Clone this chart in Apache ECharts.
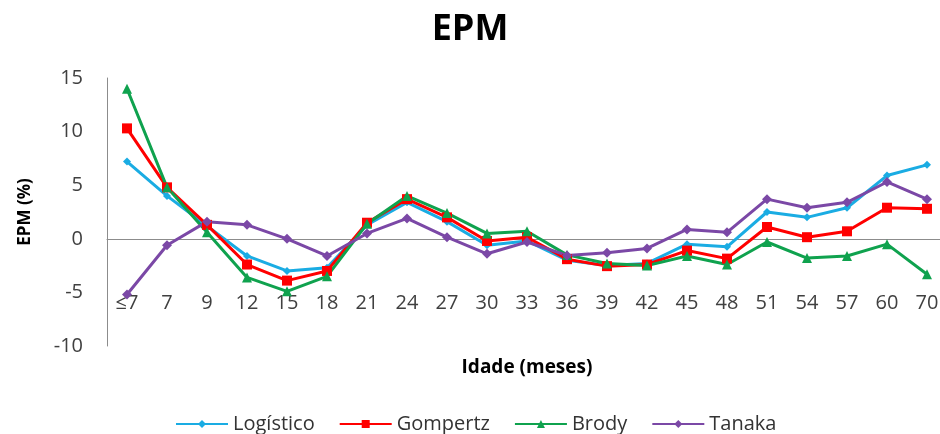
<!DOCTYPE html>
<html><head><meta charset="utf-8">
<script src="https://cdn.jsdelivr.net/npm/echarts@6/dist/echarts.min.js"></script>
<style>html,body{margin:0;padding:0;background:#fff}#c{width:940px;height:434px}</style>
</head><body><div id="c"></div>
<script>
const categories = ['≤7','7','9','12','15','18','21','24','27','30','33','36','39','42','45','48','51','54','57','60','70'];
const logistico = [7.2,4.0,1.2,-1.6,-3.0,-2.7,1.3,3.4,1.6,-0.6,-0.2,-2.0,-2.5,-2.3,-0.5,-0.75,2.5,2.0,2.9,5.9,6.9];
const gompertz  = [10.3,4.8,1.3,-2.4,-3.9,-3.0,1.5,3.7,2.0,-0.2,0.15,-1.9,-2.55,-2.4,-1.1,-1.85,1.1,0.15,0.7,2.9,2.8];
const brody     = [14.0,4.8,0.6,-3.6,-4.9,-3.5,1.4,4.0,2.4,0.5,0.7,-1.5,-2.3,-2.5,-1.6,-2.4,-0.3,-1.8,-1.6,-0.5,-3.3];
const tanaka    = [-5.2,-0.6,1.6,1.3,0.0,-1.6,0.5,1.9,0.15,-1.4,-0.3,-1.55,-1.3,-0.9,0.87,0.6,3.7,2.9,3.4,5.3,3.7];
const yTicks = {min:-10, max:15, interval:5};

const font = "'Open Sans', 'Liberation Sans', sans-serif";
const chart = echarts.init(document.getElementById('c'));
function s(name, data, color, symbol, size){
  return {name, type:'line', data, symbol, symbolSize:size, color,
    lineStyle:{width:3,color}, itemStyle:{color}};
}
chart.setOption({
  animation:false,
  textStyle:{fontFamily:font},
  title:{text:'EPM', left:'center', top:7, textStyle:{fontSize:36, fontWeight:'bold', color:'#000', fontFamily:font}},
  legend:{bottom:-5, left:170, itemWidth:52, itemHeight:10, itemGap:24,
    textStyle:{fontSize:20, color:'#333', fontFamily:font}},
  grid:{left:107, right:-7, top:78, bottom:88, containLabel:false, outerBoundsMode:'none'},
  xAxis:{type:'category', data:categories, boundaryGap:true,
    axisLine:{onZero:true, lineStyle:{color:'#8c8c8c', width:1}},
    axisTick:{show:false},
    axisLabel:{fontSize:20, color:'#404040', margin:-53, interval:0, fontFamily:font},
    name:'Idade (meses)', nameLocation:'middle', nameGap:12,
    nameTextStyle:{fontSize:19, fontWeight:'bold', color:'#000', fontFamily:font}},
  yAxis:{type:'value', min:yTicks.min, max:yTicks.max, interval:yTicks.interval,
    splitLine:{show:false},
    axisLine:{show:true, lineStyle:{color:'#8c8c8c', width:1}},
    axisTick:{show:false},
    axisLabel:{fontSize:20, color:'#404040', margin:24, fontFamily:font},
    name:'EPM (%)', nameLocation:'middle', nameGap:73, nameRotate:90,
    nameTextStyle:{fontSize:17, fontWeight:'bold', color:'#000', fontFamily:font}},
  series:[
    s('Logístico', logistico, '#1AACE3', 'diamond', 8),
    s('Gompertz', gompertz, '#FF0000', 'rect', 10),
    s('Brody', brody, '#0FA24E', 'triangle', 10),
    s('Tanaka', tanaka, '#7B48A6', 'diamond', 10)
  ]
});
</script></body></html>
